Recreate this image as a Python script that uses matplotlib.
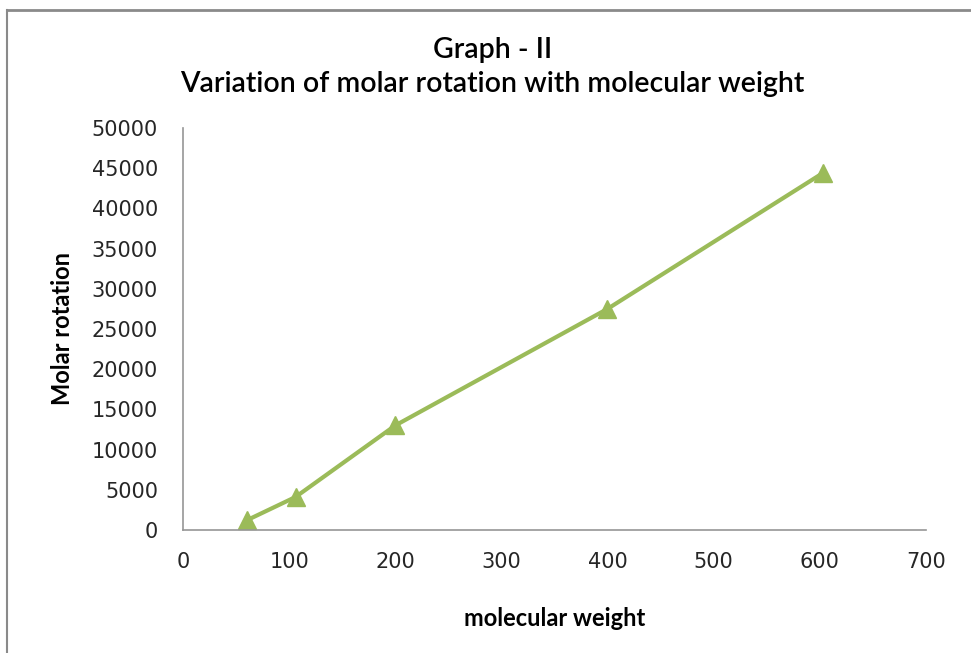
import matplotlib.pyplot as plt
from matplotlib.lines import Line2D

# values
mol_weight = [60, 106, 200, 400, 603]
molar_rotation = [1200, 4100, 13000, 27500, 44400]

x_ticks = [0, 100, 200, 300, 400, 500, 600, 700]
y_ticks = list(range(0, 50001, 5000))

green = "#9BBB59"

fig = plt.figure(figsize=(9.71, 6.53), dpi=100)
ax = fig.add_axes([0.1885, 0.1884, 0.765, 0.6156])

ax.plot(mol_weight, molar_rotation, color=green, lw=3,
        marker="^", markersize=13, markerfacecolor=green, markeredgecolor=green)

ax.set_xlim(0, 700)
ax.set_ylim(0, 50000)
ax.set_xticks(x_ticks)
ax.set_yticks(y_ticks)
ax.tick_params(length=0, labelsize=15, colors="#262626")
ax.tick_params(axis="x", pad=16)
ax.tick_params(axis="y", pad=18)

for side in ["top", "right"]:
    ax.spines[side].set_visible(False)
for side in ["left", "bottom"]:
    ax.spines[side].set_color("#969696")
    ax.spines[side].set_linewidth(1.2)

ax.set_xlabel("molecular weight", family="Lato", fontweight="bold", fontsize=17, labelpad=25)
ax.set_ylabel("Molar rotation", family="Lato", fontweight="bold", fontsize=17, labelpad=13)

fig.text(0.507, 0.923, "Graph - II", ha="center", va="center",
         family="Lato", fontsize=20.5, fontweight="semibold")
fig.text(0.507, 0.872, "Variation of molar rotation with molecular weight", ha="center", va="center",
         family="Lato", fontsize=20.5, fontweight="semibold")

# chart frame edges (top and left only visible)
fig.add_artist(Line2D([0.007, 1.0], [0.984, 0.984], transform=fig.transFigure, color="#8a8a8a", lw=2))
fig.add_artist(Line2D([0.007, 0.007], [0.0, 0.984], transform=fig.transFigure, color="#8a8a8a", lw=1.5))

fig.savefig("out.png", dpi=100)
